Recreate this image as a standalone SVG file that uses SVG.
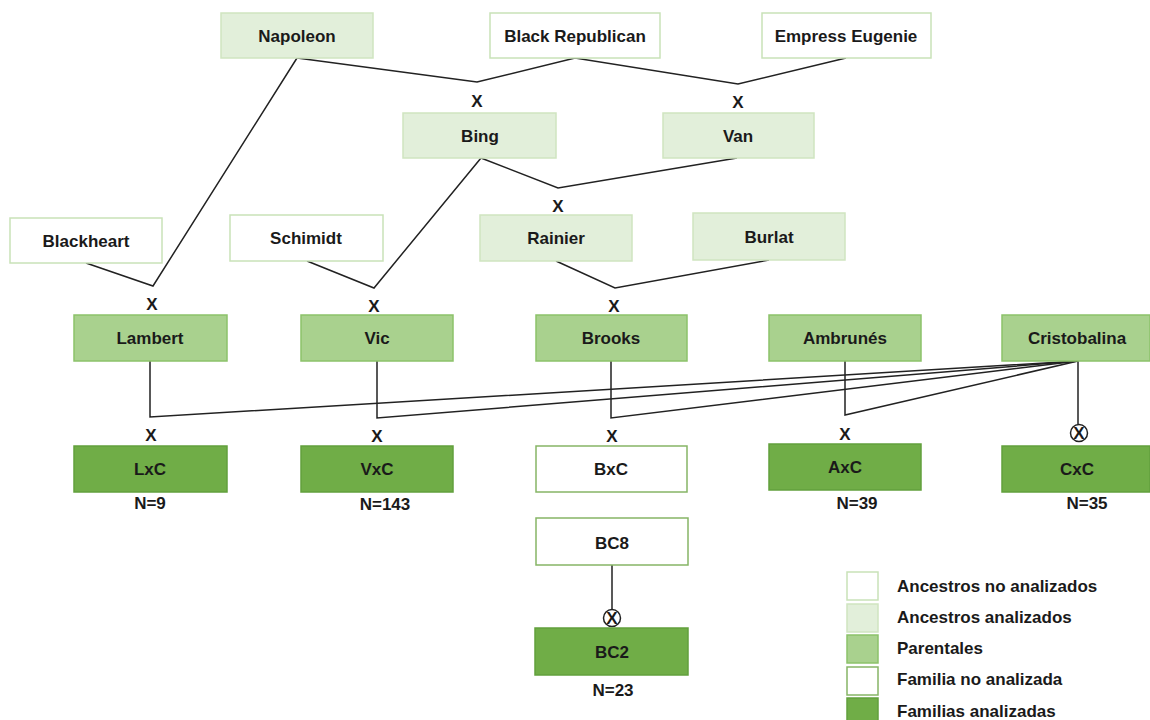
<svg xmlns="http://www.w3.org/2000/svg" width="1150" height="720" viewBox="0 0 1150 720">
<style>
text{font-family:"Liberation Sans",Arial,sans-serif;font-weight:bold;font-size:17px;fill:#1a1a1a;text-anchor:middle}
.lg{text-anchor:start}
.anc{fill:#ffffff;stroke:#c9e2b8;stroke-width:1.5}
.ana{fill:#e2efda;stroke:#cfe5c0;stroke-width:1.5}
.par{fill:#a9d18e;stroke:#8cc26a;stroke-width:1.5}
.fna{fill:#ffffff;stroke:#86b566;stroke-width:1.5}
.fan{fill:#70ad47;stroke:#62a03c;stroke-width:1.5}
.ln{fill:none;stroke:#222;stroke-width:1.5}
.cx{fill:#fff;stroke:#222;stroke-width:1.5}
</style>
<g id="connectors">
<polyline class="ln" points="297,58 477,82 575,58 738,84 846,58"/>
<polyline class="ln" points="86,263 153,286 297,58"/>
<polyline class="ln" points="307,261 374,288 481,158"/>
<polyline class="ln" points="481,158 558,188 737,158"/>
<polyline class="ln" points="556,261 615,288 769,260"/>
<polyline class="ln" points="150,361 150,417 1078,361"/>
<polyline class="ln" points="377,361 377,418 1078,361"/>
<polyline class="ln" points="611,361 611,418 1078,361"/>
<polyline class="ln" points="845,361 845,415 1078,361"/>
<line class="ln" x1="1078" y1="361" x2="1078" y2="424"/>
<line class="ln" x1="612" y1="565" x2="612" y2="609"/>
</g>
<g id="napoleon"><rect class="ana" x="221" y="13" width="152" height="45"/><text x="297" y="42">Napoleon</text></g>
<g id="black-republican"><rect class="anc" x="490" y="13" width="170" height="45"/><text x="575" y="42">Black Republican</text></g>
<g id="empress-eugenie"><rect class="anc" x="762" y="13" width="169" height="45"/><text x="846" y="42">Empress Eugenie</text></g>
<g id="bing"><rect class="ana" x="403" y="113" width="153" height="45"/><text x="480" y="142">Bing</text></g>
<g id="van"><rect class="ana" x="663" y="113" width="151" height="45"/><text x="738" y="142">Van</text></g>
<g id="x-bing"><text x="477" y="107">X</text></g>
<g id="x-van"><text x="738" y="108">X</text></g>
<g id="blackheart"><rect class="anc" x="10" y="218" width="152" height="45"/><text x="86" y="247">Blackheart</text></g>
<g id="schimidt"><rect class="anc" x="230" y="215" width="153" height="46"/><text x="306" y="244">Schimidt</text></g>
<g id="rainier"><rect class="ana" x="480" y="215" width="152" height="46"/><text x="556" y="244">Rainier</text></g>
<g id="burlat"><rect class="ana" x="693" y="213" width="152" height="47"/><text x="769" y="243">Burlat</text></g>
<g id="x-rainier"><text x="558" y="212">X</text></g>
<g id="x-lambert"><text x="152" y="310">X</text></g>
<g id="x-vic"><text x="374" y="312">X</text></g>
<g id="x-brooks"><text x="614" y="312">X</text></g>
<g id="lambert"><rect class="par" x="74" y="315" width="153" height="46"/><text x="150" y="344">Lambert</text></g>
<g id="vic"><rect class="par" x="301" y="315" width="152" height="46"/><text x="377" y="344">Vic</text></g>
<g id="brooks"><rect class="par" x="536" y="315" width="151" height="46"/><text x="611" y="344">Brooks</text></g>
<g id="ambrunes"><rect class="par" x="769" y="315" width="152" height="46"/><text x="845" y="344">Ambrunés</text></g>
<g id="cristobalina"><rect class="par" x="1002" y="315" width="148" height="46"/><text x="1077" y="344">Cristobalina</text></g>
<g id="x-lxc"><text x="151" y="441">X</text></g>
<g id="x-vxc"><text x="377" y="442">X</text></g>
<g id="x-bxc"><text x="612" y="442">X</text></g>
<g id="x-axc"><text x="845" y="440">X</text></g>
<g id="x-cxc"><circle class="cx" cx="1079" cy="433" r="8.5"/><text x="1079" y="439">X</text></g>
<g id="lxc"><rect class="fan" x="74" y="446" width="153" height="46"/><text x="150" y="475">LxC</text></g>
<g id="vxc"><rect class="fan" x="301" y="446" width="152" height="46"/><text x="377" y="475">VxC</text></g>
<g id="bxc"><rect class="fna" x="536" y="446" width="151" height="46"/><text x="611" y="475">BxC</text></g>
<g id="axc"><rect class="fan" x="769" y="444" width="152" height="46"/><text x="845" y="473">AxC</text></g>
<g id="cxc"><rect class="fan" x="1002" y="446" width="148" height="46"/><text x="1077" y="475">CxC</text></g>
<g id="n-lxc"><text x="150" y="509">N=9</text></g>
<g id="n-vxc"><text x="385" y="510">N=143</text></g>
<g id="n-axc"><text x="857" y="509">N=39</text></g>
<g id="n-cxc"><text x="1087" y="509">N=35</text></g>
<g id="bc8"><rect class="fna" x="536" y="518" width="152" height="47"/><text x="612" y="549">BC8</text></g>
<g id="x-bc2"><circle class="cx" cx="612" cy="618" r="8.5"/><text x="612" y="624">X</text></g>
<g id="bc2"><rect class="fan" x="535" y="628" width="153" height="47"/><text x="612" y="658">BC2</text></g>
<g id="n-bc2"><text x="613" y="696">N=23</text></g>
<g id="legend">
<rect class="anc" x="847" y="572" width="31" height="28"/>
<rect class="ana" x="847" y="604" width="31" height="28"/>
<rect class="par" x="847" y="635" width="31" height="28"/>
<rect class="fna" x="847" y="667" width="31" height="28"/>
<rect class="fan" x="847" y="698" width="31" height="28"/>
<text class="lg" x="897" y="592">Ancestros no analizados</text>
<text class="lg" x="897" y="623">Ancestros analizados</text>
<text class="lg" x="897" y="654">Parentales</text>
<text class="lg" x="897" y="685">Familia no analizada</text>
<text class="lg" x="897" y="717">Familias analizadas</text>
</g>
</svg>
